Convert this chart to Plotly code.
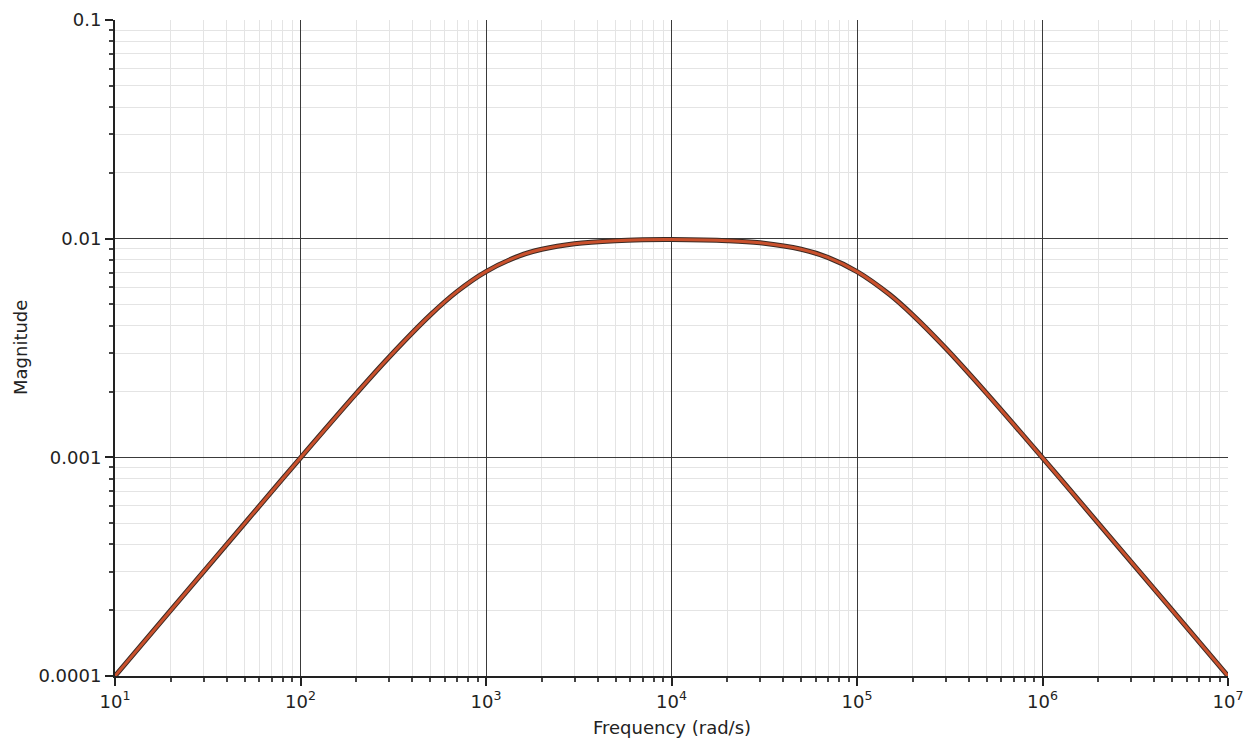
import plotly.graph_objects as go

freq = [10, 20, 50, 100, 200, 300, 500, 700, 1000, 1500, 2000, 3000, 5000, 7000,
        1e4, 2e4, 3e4, 5e4, 7e4, 1e5, 1.5e5, 2e5, 3e5, 5e5, 1e6, 2e6, 5e6, 1e7]
magnitude = [1.0e-4, 2.0e-4, 4.99e-4, 9.95e-4, 1.96e-3, 2.87e-3, 4.47e-3, 5.74e-3,
             7.07e-3, 8.32e-3, 8.94e-3, 9.48e-3, 9.79e-3, 9.88e-3, 9.90e-3, 9.79e-3,
             9.57e-3, 8.94e-3, 8.19e-3, 7.07e-3, 5.55e-3, 4.47e-3, 3.16e-3, 1.96e-3,
             9.95e-4, 4.99e-4, 2.0e-4, 1.0e-4]

x_ticks = [10, 100, 1000, 1e4, 1e5, 1e6, 1e7]
x_labels = ["10<sup>1</sup>", "10<sup>2</sup>", "10<sup>3</sup>", "10<sup>4</sup>",
            "10<sup>5</sup>", "10<sup>6</sup>", "10<sup>7</sup>"]
y_ticks = [1e-4, 1e-3, 1e-2, 1e-1]
y_labels = ["0.0001", "0.001", "0.01", "0.1"]

FONT = "DejaVu Sans, Verdana, sans-serif"

fig = go.Figure()
fig.add_trace(go.Scatter(x=freq, y=magnitude, mode="lines",
                         line=dict(color="#3a2a24", width=5, shape="spline"),
                         hoverinfo="skip", showlegend=False))
fig.add_trace(go.Scatter(x=freq, y=magnitude, mode="lines",
                         line=dict(color="#c9502c", width=3, shape="spline"),
                         showlegend=False))

fig.update_layout(
    width=1245, height=734,
    margin=dict(l=107, r=25, t=12, b=66, autoexpand=False),
    paper_bgcolor="#ffffff", plot_bgcolor="#ffffff",
    font=dict(family=FONT, color="#222222"),
    showlegend=False,
    annotations=[
        dict(text="Frequency (rad/s)", xref="paper", yref="paper", x=0.5, y=0,
             xanchor="center", yanchor="middle", yshift=-51, showarrow=False,
             font=dict(size=18, family=FONT, color="#222222")),
        dict(text="Magnitude", xref="paper", yref="paper", x=0, y=0.5,
             xanchor="center", yanchor="middle", xshift=-95, textangle=-90, showarrow=False,
             font=dict(size=18, family=FONT, color="#222222")),
    ],
)
axis_common = dict(
    automargin=False,
    showline=True, linecolor="#222222", linewidth=2,
    ticks="outside", ticklen=8, tickcolor="#222222", tickwidth=1.5,
    showgrid=True, gridcolor="#3a3a3a", gridwidth=1,
    minor=dict(dtick="D1", ticks="outside", ticklen=4, tickcolor="#444444",
               showgrid=True, gridcolor="#e4e4e4", gridwidth=1),
    zeroline=False, mirror=False,
    tickfont=dict(size=18, family=FONT, color="#222222"),
)
fig.update_xaxes(type="log", range=[1, 7], tickvals=x_ticks, ticktext=x_labels, **axis_common)
fig.update_yaxes(type="log", range=[-4, -1], tickvals=y_ticks, ticktext=y_labels, **axis_common)

fig.write_html("out.html")
